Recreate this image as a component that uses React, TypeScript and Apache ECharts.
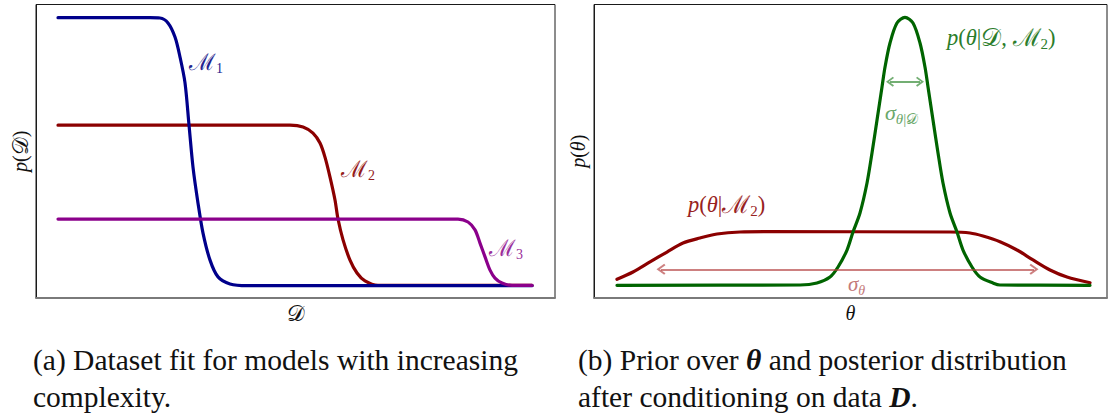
import React, { useEffect, useRef } from "react";
import * as echarts from "echarts";

// ---------- data ----------
// Left panel: p(D) for three models, x in [0,100], y in [0,100]
const m1Curve: [number, number][] = [
  [4.24, 95.5], [21.97, 95.5], [23.89, 95.4], [25.43, 93.7], [26.78, 88.9],
  [27.75, 82.1], [28.71, 73.3], [29.48, 59.0], [30.25, 44.6], [31.21, 32.4],
  [32.18, 22.1], [33.53, 12.9], [35.07, 7.2], [37.38, 4.8], [40.66, 4.2], [95.57, 4.2],
];
const m2Curve: [number, number][] = [
  [4.24, 58.9], [48.94, 58.9], [51.45, 58.3], [53.37, 56.2], [54.72, 52.8],
  [55.68, 48.0], [56.65, 41.2], [57.61, 33.4], [58.19, 26.9], [59.16, 19.8],
  [60.5, 12.9], [61.85, 8.5], [63.39, 5.8], [65.89, 4.3], [95.57, 4.3],
];
const m3Curve: [number, number][] = [
  [4.24, 26.9], [81.31, 26.9], [83.24, 25.9], [84.59, 23.2], [85.55, 18.7],
  [86.52, 14.0], [87.48, 9.5], [88.44, 6.8], [89.79, 5.1], [91.72, 4.3], [95.57, 4.3],
];
// Right panel: prior and posterior over theta
const priorCurve: [number, number][] = [
  [4.48, 6.37], [7.6, 8.86], [10.92, 12.27], [14.23, 15.67], [17.35, 18.74],
  [20.66, 20.44], [23.98, 21.8], [28.46, 22.49], [33.72, 22.59], [69.4, 22.49],
  [73.3, 22.15], [75.83, 21.12], [79.14, 19.18], [82.46, 16.35], [85.58, 12.95],
  [88.89, 9.54], [92.2, 7.15], [96.69, 5.21],
];
const posteriorCurve: [number, number][] = [
  [4.48, 4.33], [40.16, 4.43], [43.47, 5.11], [46.01, 7.15], [47.57, 10.56],
  [49.32, 16.35], [50.49, 22.49], [51.85, 28.96], [53.22, 39.18], [54.19, 49.4],
  [55.17, 60.64], [56.14, 71.89], [56.73, 78.7], [57.7, 86.88], [59.06, 93.69],
  [60.62, 95.64], [62.18, 93.69], [63.55, 86.88], [64.52, 78.7], [65.11, 71.89],
  [66.08, 60.64], [67.06, 49.4], [68.03, 39.18], [69.4, 28.96], [70.76, 22.49],
  [71.93, 16.35], [73.68, 10.56], [75.24, 7.15], [77.78, 5.11], [79.14, 4.43],
  [96.69, 4.33],
];
// width arrows: [xFrom, xTo, y]
const sigmaPriorSpan = [13.06, 85.77, 9.78];
const sigmaPostSpan = [57.7, 63.55, 73.69];

const captionA = ["(a) Dataset fit for models with increasing", "complexity."];
const captionB1 = ["(b) Prior over ", "θ", " and posterior distribution"];
const captionB2 = ["after conditioning on data ", "D", "."];

// ---------- styles ----------
const SERIF = "Liberation Serif";
const SCRIPT = "DejaVu Serif";
const BLUE = "#00008b";
const RED = "#8b0000";
const PURPLE = "#8b008b";
const GREEN = "#006400";
const CHEVRON = "path://M5 0 L10 7 L8.6 8.2 L5 3 L1.4 8.2 L0 7 Z";

function mathRich(size: number) {
  const sub = Math.round(size * 0.68);
  const lh = size + 6;
  return {
    i: { fontFamily: SERIF, fontStyle: "italic", fontSize: size, lineHeight: lh },
    n: { fontFamily: SERIF, fontSize: size, lineHeight: lh },
    c: { fontFamily: SCRIPT, fontSize: size + 2, lineHeight: lh },
    si: { fontFamily: SERIF, fontStyle: "italic", fontSize: sub, lineHeight: sub, verticalAlign: "bottom" },
    sn: { fontFamily: SERIF, fontSize: sub, lineHeight: sub, verticalAlign: "bottom" },
    sc: { fontFamily: SCRIPT, fontSize: sub, lineHeight: sub, verticalAlign: "bottom" },
  };
}

function mathLabel(x: number, y: number, text: string, fill: string, size = 19) {
  return {
    type: "text",
    x,
    y,
    silent: true,
    style: { text, rich: mathRich(size), fill, align: "left", verticalAlign: "middle" },
  };
}

function captionText(x: number, y: number, text: string) {
  return {
    type: "text",
    x,
    y,
    silent: true,
    style: {
      text,
      fill: "#111",
      align: "left",
      verticalAlign: "middle",
      rich: {
        n: { fontFamily: SERIF, fontSize: 29.5, fill: "#111", lineHeight: 32 },
        b: { fontFamily: SERIF, fontSize: 29.5, fontStyle: "italic", fontWeight: "bold", fill: "#111", lineHeight: 32 },
      },
    },
  };
}

function lineSeries(name: string, data: [number, number][], color: string, idx: number, extra: any = {}) {
  return {
    name,
    type: "line",
    xAxisIndex: idx,
    yAxisIndex: idx,
    data,
    showSymbol: false,
    symbol: "none",
    smooth: 0.3,
    lineStyle: { color, width: 3.2, cap: "round", join: "round" },
    itemStyle: { color },
    ...extra,
  };
}

function arrowMark(span: number[], color: string, size: number[]) {
  return {
    silent: true,
    symbol: [CHEVRON, CHEVRON],
    symbolSize: size,
    label: { show: false },
    lineStyle: { color, width: 2, type: "solid", opacity: 1 },
    emphasis: { disabled: true },
    data: [[{ coord: [span[0], span[2]] }, { coord: [span[1], span[2]] }]],
  };
}

const axisNameRich = mathRich(20);

export default function App() {
  const ref = useRef<HTMLDivElement>(null);
  useEffect(() => {
    document.body.style.margin = "0";
    const chart = echarts.init(ref.current!, null, { renderer: "svg" });
    const xAxisBase = {
      type: "value",
      min: 0,
      max: 100,
      axisTick: { show: false },
      axisLabel: { show: false },
      splitLine: { show: false },
      axisLine: { show: true, lineStyle: { color: "#7a7a7a", width: 2 } },
      nameLocation: "middle",
      nameGap: 2,
      nameTextStyle: { rich: axisNameRich, color: "#111" },
    };
    const yAxisBase = {
      type: "value",
      min: 0,
      max: 100,
      axisTick: { show: false },
      axisLabel: { show: false },
      splitLine: { show: false },
      axisLine: { show: true, lineStyle: { color: "#1a1a1a", width: 1 } },
      nameLocation: "middle",
      nameGap: 3,
      nameRotate: 90,
      nameTextStyle: { rich: axisNameRich, color: "#111" },
    };
    const option: any = {
      animation: false,
      backgroundColor: "#fff",
      grid: [
        { left: 36, top: 4.5, width: 519, height: 293.5, show: true, borderColor: "#1a1a1a", borderWidth: 1, backgroundColor: "transparent" },
        { left: 594, top: 4.5, width: 513, height: 293.5, show: true, borderColor: "#1a1a1a", borderWidth: 1, backgroundColor: "transparent" },
      ],
      xAxis: [
        { ...xAxisBase, gridIndex: 0, name: "{c|𝒟}" },
        { ...xAxisBase, gridIndex: 1, name: "{i|θ}" },
      ],
      yAxis: [
        { ...yAxisBase, gridIndex: 0, name: "{i|p}{n|(}{c|𝒟}{n|)}" },
        { ...yAxisBase, gridIndex: 1, name: "{i|p}{n|(}{i|θ}{n|)}" },
      ],
      series: [
        lineSeries("M2", m2Curve, RED, 0),
        lineSeries("M1", m1Curve, BLUE, 0),
        lineSeries("M3", m3Curve, PURPLE, 0),
        lineSeries("prior", priorCurve, RED, 1, {
          markLine: arrowMark(sigmaPriorSpan, "rgba(178,60,60,0.65)", [11, 9]),
        }),
        lineSeries("posterior", posteriorCurve, GREEN, 1, {
          markLine: arrowMark(sigmaPostSpan, "rgba(40,130,40,0.65)", [10, 8]),
        }),
      ],
      graphic: [
        mathLabel(189, 62, "{c|ℳ}{sn|1}", "#24248f", 21),
        mathLabel(341, 169, "{c|ℳ}{sn|2}", "#951c1c", 21),
        mathLabel(489, 248, "{c|ℳ}{sn|3}", "#9b2e9b", 21),
        mathLabel(947, 37, "{i|p}{n|(}{i|θ}{n||}{c|𝒟}{n|, }{c|ℳ}{sn|2}{n|)}", "#2b7d2b", 22.5),
        mathLabel(688, 204, "{i|p}{n|(}{i|θ}{n||}{c|ℳ}{sn|2}{n|)}", "#982222", 22.5),
        mathLabel(885, 112, "{i|σ}{si|θ}{sn||}{sc|𝒟}", "#6aa86a", 22),
        mathLabel(848, 284, "{i|σ}{si|θ}", "#c47a7a", 21),
        captionText(33, 360, `{n|${captionA[0]}}`),
        captionText(33, 397, `{n|${captionA[1]}}`),
        captionText(578, 360, `{n|${captionB1[0]}}{b|${captionB1[1]}}{n|${captionB1[2]}}`),
        captionText(578, 397, `{n|${captionB2[0]}}{b|${captionB2[1]}}{n|${captionB2[2]}}`),
      ],
    };
    chart.setOption(option);
    return () => chart.dispose();
  }, []);
  return <div ref={ref} style={{ width: 1109, height: 414 }} />;
}
